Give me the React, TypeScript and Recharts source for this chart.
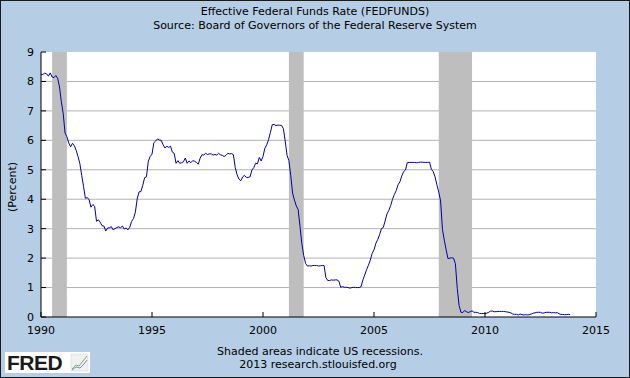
import React from "react";
import { CartesianGrid, Line, LineChart, ReferenceArea, XAxis, YAxis } from "recharts";

// Effective Federal Funds Rate, monthly, Jan 1990 - Nov 2013 (percent)
const fedFunds: number[] = [
  8.23, 8.24, 8.28, 8.26, 8.18, 8.29, 8.15, 8.13, 8.2, 8.11, 7.81, 7.31, // 1990
  6.91, 6.25, 6.12, 5.91, 5.78, 5.9, 5.82, 5.66, 5.45, 5.21, 4.81, 4.43, // 1991
  4.03, 4.06, 3.98, 3.73, 3.82, 3.76, 3.25, 3.3, 3.22, 3.1, 3.09, 2.92, // 1992
  3.02, 3.03, 3.07, 2.96, 3.0, 3.04, 3.06, 3.03, 3.09, 2.99, 3.02, 2.96, // 1993
  3.05, 3.25, 3.34, 3.56, 4.01, 4.25, 4.26, 4.47, 4.73, 4.76, 5.29, 5.45, // 1994
  5.53, 5.92, 5.98, 6.05, 6.01, 6.0, 5.85, 5.74, 5.8, 5.76, 5.8, 5.6, // 1995
  5.56, 5.22, 5.31, 5.22, 5.24, 5.27, 5.4, 5.22, 5.3, 5.24, 5.31, 5.29, // 1996
  5.25, 5.19, 5.39, 5.51, 5.5, 5.56, 5.52, 5.54, 5.54, 5.5, 5.52, 5.5, // 1997
  5.56, 5.51, 5.49, 5.45, 5.49, 5.56, 5.54, 5.55, 5.51, 5.07, 4.83, 4.68, // 1998
  4.63, 4.76, 4.81, 4.74, 4.74, 4.76, 4.99, 5.07, 5.22, 5.2, 5.42, 5.3, // 1999
  5.45, 5.73, 5.85, 6.02, 6.27, 6.53, 6.54, 6.5, 6.52, 6.51, 6.51, 6.4, // 2000
  5.98, 5.49, 5.31, 4.8, 4.21, 3.97, 3.77, 3.65, 3.07, 2.49, 2.09, 1.82, // 2001
  1.73, 1.74, 1.73, 1.75, 1.75, 1.75, 1.73, 1.74, 1.75, 1.75, 1.34, 1.24, // 2002
  1.24, 1.26, 1.25, 1.26, 1.26, 1.22, 1.01, 1.03, 1.01, 1.01, 1.0, 0.98, // 2003
  1.0, 1.01, 1.0, 1.0, 1.0, 1.03, 1.26, 1.43, 1.61, 1.76, 1.93, 2.16, // 2004
  2.28, 2.5, 2.63, 2.79, 3.0, 3.04, 3.26, 3.5, 3.62, 3.78, 4.0, 4.16, // 2005
  4.29, 4.49, 4.59, 4.79, 4.94, 4.99, 5.24, 5.25, 5.25, 5.25, 5.25, 5.24, // 2006
  5.25, 5.26, 5.26, 5.25, 5.25, 5.25, 5.26, 5.02, 4.94, 4.76, 4.49, 4.24, // 2007
  3.94, 2.98, 2.61, 2.28, 1.98, 2.0, 2.01, 2.0, 1.81, 0.97, 0.39, 0.16, // 2008
  0.15, 0.22, 0.18, 0.15, 0.18, 0.21, 0.16, 0.16, 0.15, 0.12, 0.12, 0.12, // 2009
  0.11, 0.13, 0.16, 0.2, 0.2, 0.18, 0.18, 0.19, 0.19, 0.19, 0.19, 0.18, // 2010
  0.17, 0.16, 0.14, 0.1, 0.09, 0.09, 0.07, 0.1, 0.08, 0.07, 0.08, 0.07, // 2011
  0.08, 0.1, 0.13, 0.14, 0.16, 0.16, 0.16, 0.13, 0.14, 0.16, 0.16, 0.16, // 2012
  0.14, 0.15, 0.14, 0.15, 0.11, 0.09, 0.09, 0.08, 0.08, 0.09, 0.08, // 2013
];
const startYear = 1990;

// US recessions (NBER), as decimal years
const recessionStarts = [1990.5, 2001.167, 2007.917];
const recessionEnds = [1991.167, 2001.833, 2009.417];

const xTicks = [1990, 1995, 2000, 2005, 2010, 2015];
const yTicks = [0, 1, 2, 3, 4, 5, 6, 7, 8, 9];
const gridValues = [1, 2, 3, 4, 5, 6, 7, 8];

const data = fedFunds.map((rate, i) => ({ date: startYear + i / 12, rate }));

const FONT = "'DejaVu Sans', Verdana, sans-serif";
const BG = "#b5cde5";

export default function App() {
  return (
    <div style={{ position: "absolute", left: 0, top: 0, width: 630, height: 378, background: BG }}>
      <LineChart width={630} height={378} data={data} margin={{ top: 52, right: 34, bottom: 31, left: 0 }}>
        <CartesianGrid vertical={false} horizontalValues={gridValues} stroke="#b2b2b2" fill="#ffffff" />
        {recessionStarts.map((s, i) => (
          <ReferenceArea
            key={s}
            x1={s}
            x2={recessionEnds[i]}
            y1={0}
            y2={9}
            fill="#bebebe"
            fillOpacity={1}
            stroke="none"
            ifOverflow="hidden"
          />
        ))}
        <XAxis
          type="number"
          dataKey="date"
          domain={[1990, 2015]}
          ticks={xTicks}
          allowDataOverflow
          height={30}
          stroke="#000"
          tickSize={-5}
          tickMargin={14}
          tick={{ fill: "#000", fontSize: 11, fontFamily: FONT }}
        />
        <YAxis
          type="number"
          domain={[0, 9]}
          ticks={yTicks}
          width={41}
          stroke="#000"
          tickSize={-5}
          tickMargin={12}
          tick={{ fill: "#000", fontSize: 11, fontFamily: FONT }}
        />
        <Line
          type="linear"
          dataKey="rate"
          stroke="#0000a8"
          strokeWidth={1}
          dot={false}
          isAnimationActive={false}
        />
      </LineChart>

      <svg
        width={630}
        height={378}
        style={{ position: "absolute", left: 0, top: 0, pointerEvents: "none" }}
      >
        <g fontFamily={FONT} fontSize={11} fill="#000" textAnchor="middle">
          <text x={315} y={15}>Effective Federal Funds Rate (FEDFUNDS)</text>
          <text x={315} y={29}>Source: Board of Governors of the Federal Reserve System</text>
          <text x={320} y={355}>Shaded areas indicate US recessions.</text>
          <text x={318} y={368}>2013 research.stlouisfed.org</text>
          <text x={16} y={187} transform="rotate(-90 16 187)">(Percent)</text>
        </g>
        {/* FRED logo */}
        <rect x={5} y={352} width={85} height={21} fill="#ffffff" />
        <text x={7} y={370} fontFamily="'Liberation Sans', Arial, sans-serif" fontWeight="bold" fontSize={21} fill="#1a1a1a" letterSpacing={-0.5}>
          FRED
        </text>
        <rect x={71} y={354} width={17} height={17} fill="#eef0f2" stroke="#d0d4d8" strokeWidth={0.5} />
        <polyline points="72,369 76,365 79,366 83,361 87,356" fill="none" stroke="#7fb069" strokeWidth={1} />
        <polyline points="72,370 76,367 80,368 84,364 87,360" fill="none" stroke="#6f95c8" strokeWidth={1} />
        <rect x={0.5} y={0.5} width={629} height={377} fill="none" stroke="#1a1a1a" strokeWidth={1} />
      </svg>
    </div>
  );
}
